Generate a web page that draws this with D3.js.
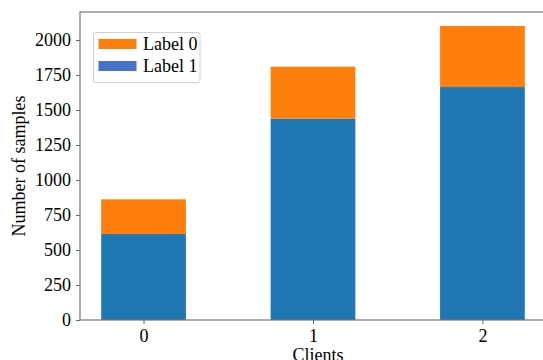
<!DOCTYPE html>
<html><head><meta charset="utf-8">
<script src="https://cdn.jsdelivr.net/npm/d3@7"></script>
<style>body{margin:0;background:#fff}svg{display:block}</style>
</head><body>
<svg id="c" width="543" height="360"></svg>
<script>
const categories = ["0", "1", "2"];
const label1Values = [614, 1438, 1664];
const label0Values = [248, 371, 436];
const yTicks = [0, 250, 500, 750, 1000, 1250, 1500, 1750, 2000];
const seriesNames = ["Label 0", "Label 1"];

(function(){
const svg = d3.select("#c");
const font = "'Liberation Serif','Times New Roman',serif";
const mL = 80, mR = 546, mT = 12, mB = 320;
const x = d3.scaleLinear().domain([-0.375, categories.length - 1 + 0.375]).range([mL, mR]);
const y = d3.scaleLinear().domain([0, 2200]).range([mB, mT]);
const barW = 0.5;

const g = svg.append("g");
g.selectAll("rect.b1").data(categories).enter().append("rect")
  .attr("x", (d,i) => x(i - barW/2)).attr("width", (d,i) => x(i + barW/2) - x(i - barW/2))
  .attr("y", (d,i) => y(label1Values[i])).attr("height", (d,i) => y(0) - y(label1Values[i]))
  .attr("fill", "#1f77b4");
g.selectAll("rect.b0").data(categories).enter().append("rect")
  .attr("x", (d,i) => x(i - barW/2)).attr("width", (d,i) => x(i + barW/2) - x(i - barW/2))
  .attr("y", (d,i) => y(label1Values[i] + label0Values[i])).attr("height", (d,i) => y(label1Values[i]) - y(label1Values[i] + label0Values[i]))
  .attr("fill", "#ff7f0e");

const yAxis = d3.axisLeft(y).tickValues(yTicks).tickSize(4).tickPadding(5).tickFormat(d3.format("d"));
const ya = svg.append("g").attr("transform", `translate(${mL},0)`).call(yAxis);
ya.attr("font-family", font).attr("font-size", 18);
ya.select(".domain").remove();
ya.selectAll("line").attr("stroke", "#666");
ya.selectAll("text").attr("fill", "#000");

const xAxis = d3.axisBottom(x).tickValues(categories.map((d,i)=>i)).tickFormat((d,i)=>categories[i]).tickSize(4).tickPadding(5);
const xa = svg.append("g").attr("transform", `translate(0,${mB})`).call(xAxis);
xa.attr("font-family", font).attr("font-size", 18);
xa.select(".domain").remove();
xa.selectAll("line").attr("stroke", "#666");
xa.selectAll("text").attr("fill", "#000");

svg.append("rect").attr("x", mL).attr("y", mT).attr("width", mR - mL).attr("height", mB - mT)
  .attr("fill", "none").attr("stroke", "#777").attr("stroke-width", 1.2);

svg.append("text").attr("x", 318).attr("y", 361).attr("text-anchor", "middle")
  .attr("font-family", font).attr("font-size", 18).text("Clients");
svg.append("text").attr("transform", `translate(25,${(mT+mB)/2}) rotate(-90)`).attr("text-anchor", "middle")
  .attr("font-family", font).attr("font-size", 18).text("Number of samples");

const lg = svg.append("g");
lg.append("rect").attr("x", 93.5).attr("y", 32.5).attr("width", 106.5).attr("height", 50)
  .attr("rx", 2).attr("fill", "#fff").attr("stroke", "#d0d0d0");
const legColors = ["#ff7f0e", "#4472c4"];
seriesNames.forEach((n, i) => {
  lg.append("rect").attr("x", 98.5).attr("y", 39 + i*22).attr("width", 38).attr("height", 10).attr("fill", legColors[i]);
  lg.append("text").attr("x", 143).attr("y", 50 + i*22).attr("font-family", font).attr("font-size", 18).text(n);
});
})();
</script>
</body></html>
